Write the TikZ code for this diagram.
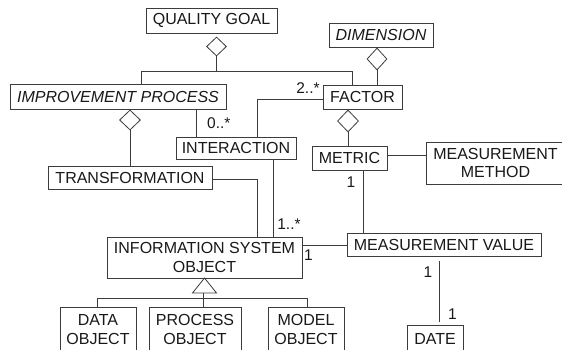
\documentclass[tikz,border=0pt]{standalone}
\usepackage{fontspec}
\setmainfont{Liberation Sans}
\usetikzlibrary{shapes.geometric}
\definecolor{ln}{HTML}{3C3C3C}
\tikzset{
  umlbox/.style={draw=ln, line width=0.8pt, rectangle, inner sep=0pt, align=center,
    font=\fontsize{16}{18.5}\selectfont, text=black!90},
  agg/.style={draw=ln, line width=0.8pt, diamond, inner sep=0pt, fill=white},
  conn/.style={draw=ln, line width=0.8pt},
  mult/.style={font=\fontsize{15.5}{17}\selectfont, text=black!90, inner sep=0pt}
}
\begin{document}
\begin{tikzpicture}[x=1pt,y=-1pt]
\useasboundingbox (0,0) rectangle (562,349);
\clip (0,0) rectangle (562,349);
\fill[white] (0,0) rectangle (562,349);
% boxes
\node[umlbox, minimum width=131pt, minimum height=25pt] (qg) at (211.5,20.5) {QUALITY GOAL};
\node[umlbox, minimum width=216pt, minimum height=25pt] (ip) at (118,96.5) {\itshape IMPROVEMENT PROCESS};
\node[umlbox, minimum width=104pt, minimum height=24pt] (dim) at (381,35) {\itshape DIMENSION};
\node[umlbox, minimum width=79pt, minimum height=24pt] (fac) at (362.5,97) {FACTOR};
\node[umlbox, minimum width=120pt, minimum height=22pt] (int) at (236,148) {INTERACTION};
\node[umlbox, minimum width=164pt, minimum height=23pt] (tr) at (130,177.5) {TRANSFORMATION};
\node[umlbox, minimum width=75pt, minimum height=24pt] (met) at (349.5,158) {METRIC};
\node[umlbox, minimum width=139pt, minimum height=42pt] (mm) at (495.5,163) {MEASUREMENT\\METHOD};
\node[umlbox, minimum width=195pt, minimum height=41pt] (iso) at (204.5,257.5) {INFORMATION SYSTEM\\OBJECT};
\node[umlbox, minimum width=194pt, minimum height=23pt] (mv) at (444,244.5) {MEASUREMENT VALUE};
\node[umlbox, minimum width=76pt, minimum height=45pt] (data) at (98,329.5) {DATA\\OBJECT};
\node[umlbox, minimum width=92pt, minimum height=45pt] (proc) at (195,329.5) {PROCESS\\OBJECT};
\node[umlbox, minimum width=76pt, minimum height=45pt] (model) at (306,329.5) {MODEL\\OBJECT};
\node[umlbox, minimum width=56pt, minimum height=28pt] (date) at (435,339) {DATE};
% aggregation diamonds
\node[agg, minimum width=20pt, minimum height=19pt] (qgd) at (216.5,46.5) {};
\node[agg, minimum width=21pt, minimum height=20pt] (ipd) at (130,120) {};
\node[agg, minimum width=20pt, minimum height=22pt] (dd) at (377,59) {};
\node[agg, minimum width=21pt, minimum height=22pt] (fd) at (348,121) {};
% junction coordinates
\coordinate (j1) at (216.5,71);
\coordinate (j1L) at (141,71);
\coordinate (j1R) at (352,71);
\coordinate (ipint) at (196,137);
\coordinate (intfac) at (257,99);
\coordinate (intiso) at (273,237);
\coordinate (trk) at (257,179);
\coordinate (metmm) at (387,155);
\coordinate (metmv) at (363,233);
\coordinate (isomv) at (302,245);
\coordinate (mvd1) at (439,261);
\coordinate (mvd2) at (439,322);
\coordinate (tribase) at (204.5,293);
\coordinate (gen) at (203,298);
\coordinate (genL) at (97,298);
\coordinate (genR) at (307,298);
% QUALITY GOAL aggregation
\draw[conn] (qgd.south) -- (j1);
\draw[conn] (ip.north -| j1L) -- (j1L) -- (j1R) -- (fac.north -| j1R);
% IMPROVEMENT PROCESS aggregation
\draw[conn] (ipd.south) -- (tr.north -| ipd.south);
% DIMENSION aggregation
\draw[conn] (dd.south) -- (fac.north -| dd.south);
% FACTOR aggregation
\draw[conn] (fd.south) -- (met.north -| fd.south);
% associations
\draw[conn] (ipint |- ip.south) -- (ipint);
\node[mult, anchor=west] (m0) at (207,123) {0..*};
\draw[conn] (int.north -| intfac) -- (intfac) -- (fac.west |- intfac);
\node[mult] (m2) at (308,88) {2..*};
\draw[conn] (int.south -| intiso) -- (intiso);
\node[mult] (m1s) at (289,224) {1..*};
\draw[conn] (tr.east |- trk) -- (trk) -- (trk |- iso.north);
\draw[conn] (met.east |- metmm) -- (mm.west |- metmm);
\draw[conn] (met.south -| metmv) -- (metmv);
\node[mult] (m1a) at (351,182) {1};
\draw[conn] (isomv) -- (mv.west |- isomv);
\node[mult] (m1b) at (308.5,255) {1};
\draw[conn] (mvd1) -- (mvd2);
\node[mult] (m1c) at (428,272) {1};
\node[mult] (m1d) at (452.5,314) {1};
% generalization
\draw[conn, fill=white] (204.5,278) -- (216.5,293) -- (192.5,293) -- cycle;
\draw[conn] (tribase -| gen) -- (gen);
\draw[conn] (data.north -| genL) -- (genL) -- (genR) -- (model.north -| genR);
\draw[conn] (gen) -- (proc.north -| gen);
\end{tikzpicture}
\end{document}
